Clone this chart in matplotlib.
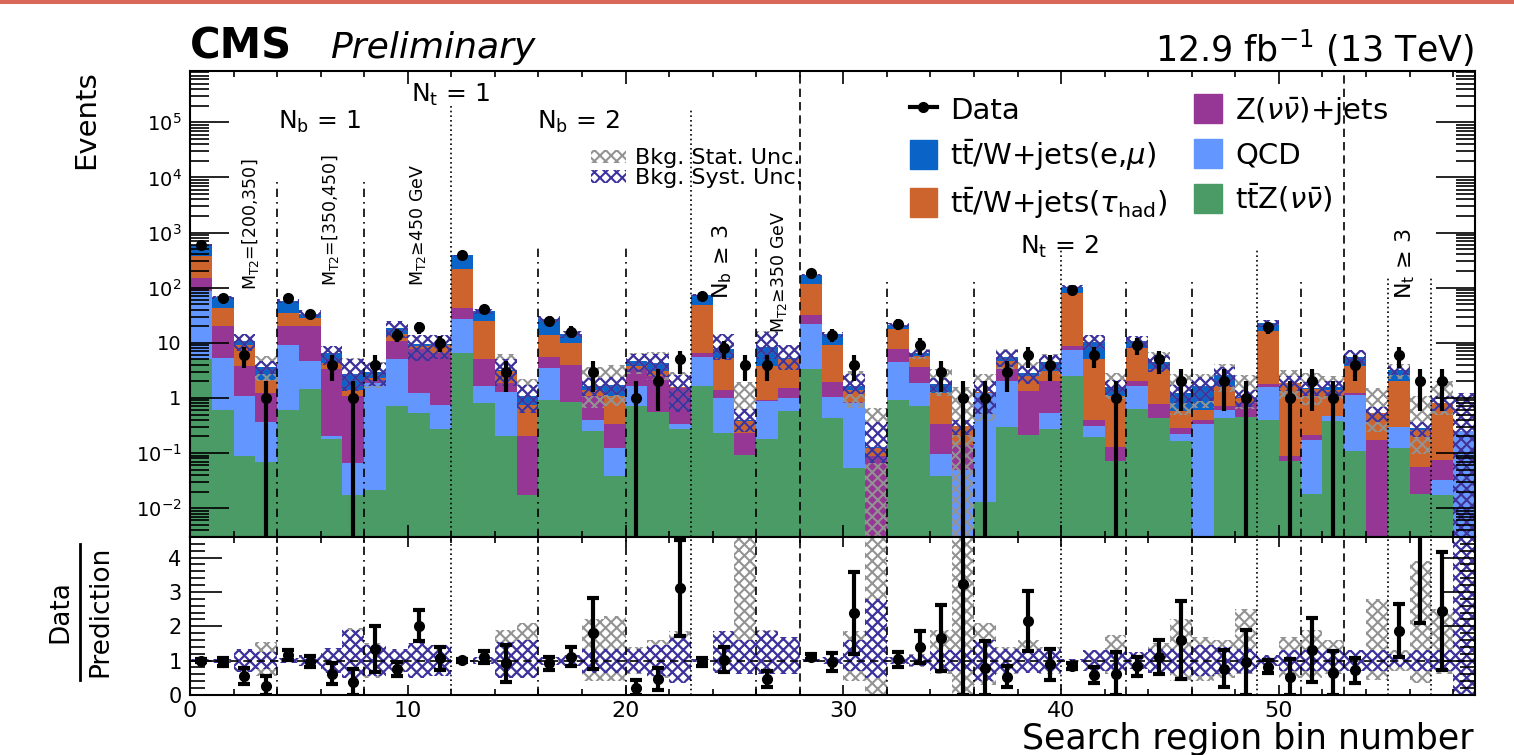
import numpy as np
import matplotlib
matplotlib.use("Agg")
import matplotlib.pyplot as plt
from matplotlib.patches import Patch, Rectangle
from matplotlib.lines import Line2D
from matplotlib.ticker import MultipleLocator, LogLocator, NullFormatter, FixedLocator, FixedFormatter

# --- background components per search bin (stacked, bottom to top) ---
ttz = [5.0, 0.61, 0.087, 0.07, 0.61, 1.46, 0.18, 0.017, 0.021, 0.7,
       0.53, 0.27, 6.6, 0.81, 0.2, 0.017, 0.93, 0.83, 0.25, 0.039,
       0.7, 0.55, 0.27, 1.68, 0.23, 0.093, 0.18, 0.57, 3.3, 0.43,
       0.053, 0.0, 0.91, 0.72, 0.039, 0.0, 0.013, 0.3, 0.215, 0.27,
       2.5, 0.195, 0.072, 0.63, 0.43, 0.163, 0.0, 0.43, 0.46, 0.39,
       0.072, 0.018, 0.38, 0.107, 0.0, 0.123, 0.018, 0.017, 0.0]
qcd = [82, 4.69, 0.98, 0.29, 8.7, 3.14, 0.02, 0.049, 1.88, 4.3,
       0.7, 0.49, 20.4, 0.82, 1.07, 0.0, 2.57, 0.0, 0.14, 0.084,
       0.93, 0.0, 0.06, 3.92, 0.77, 0.0, 0.69, 0.43, 19.1, 0.6,
       0.757, 0.0, 3.59, 1.15, 0.058, 0.05, 1.217, 1.7, 0.0, 0.26,
       4.9, 0.115, 0.0, 1.0, 0.0, 0.062, 0.33, 0.18, 0.0, 1.19,
       0.0, 0.152, 0.1, 1.013, 0.0, 0.177, 0.0, 0.015, 0.25]
znn = [65, 14.7, 2.73, 0.87, 10.7, 15.4, 3.1, 1.0, 0.25, 5.7,
       6.37, 5.84, 16, 3.47, 0.63, 0.183, 2.1, 3.07, 0.68, 0.207,
       1.67, 1.95, 1.17, 1.0, 0.42, 0.137, 0.06, 0.52, 9.0, 0.9,
       0.04, 0.087, 3.3, 1.73, 0.233, 0.09, 0.02, 1.3, 1.1, 1.47,
       1.5, 0.09, 0.058, 0.37, 0.36, 0.06, 0.06, 0.09, 0.35, 0.24,
       0.015, 0.045, 0.0, 0.11, 0.175, 0.0, 0.038, 0.044, 0.0]
tauhad = [226, 23, 5.5, 0.92, 15, 8, 1.0, 0.33, 0.15, 3.5,
          1.1, 2.4, 178, 19.7, 1.15, 0.56, 8.0, 6.1, 0.35, 0.74,
          0.5, 0.55, 0.05, 41.1, 3.88, 0.15, 2.87, 3.48, 83.6, 7.37,
          0.57, 0.036, 9.7, 2.1, 0.9, 0.17, 0.02, 1.3, 1.18, 1.05,
          70, 4.6, 0.94, 6.1, 2.5, 0.285, 0.22, 0.93, 0.19, 14.5,
          1.78, 1.245, 0.94, 2.57, 0.355, 1.7, 0.209, 0.734, 0.0]
lostlep = [220, 24, 1.4, 1.55, 22, 6, 2.1, 1.3, 0.7, 4.2,
           0.7, 0.4, 164, 12.2, 0.2, 0.31, 13.4, 4.3, 0.25, 0.68,
           0.8, 1.25, 0.05, 25.3, 2.5, 0.02, 4.7, 0.3, 53, 5.1,
           0.25, 0.007, 3.7, 0.7, 0.57, 0.0, 0.0, 1.0, 0.3, 1.45,
           26, 5.5, 0.53, 2.7, 1.2, 0.68, 1.02, 0.97, 0.05, 6.7,
           0.03, 0.06, 0.16, 1.8, 0.0, 1.2, 0.015, 0.01, 0.0]

# observed events
data = [600, 65, 6, 1, 66, 33, 4, 1, 4, 14,
        19, 10, 388, 41, 3, 0, 25, 16, 3, 0,
        1, 2, 5, 70, 8, 4, 4, 0, 188, 14,
        4, 0, 22, 9, 3, 1, 1, 3, 6, 4,
        89, 6, 1, 9, 5, 2, 0, 2, 1, 19,
        1, 2, 1, 4, 0, 6, 2, 2, 0]

# relative background uncertainties (up / down)
stat_up = [0.02, 0.05, 0.3, 0.55, 0.05, 0.1, 0.3, 0.95, 0.5, 0.25,
           0.4, 0.4, 0.02, 0.08, 0.9, 1.1, 0.1, 0.15, 1.2, 1.3,
           0.4, 0.6, 0.85, 0.05, 0.6, 3.8, 0.9, 0.7, 0.03, 0.1,
           0.85, 4.0, 0.1, 0.2, 0.9, 4.0, 1.1, 0.4, 0.6, 0.4,
           0.04, 0.3, 0.75, 0.2, 0.5, 1.2, 0.7, 0.6, 1.5, 0.15,
           0.7, 0.9, 0.6, 0.3, 1.8, 0.3, 2.9, 1.5, 4.0]
stat_dn = [0.02, 0.05, 0.3, 0.45, 0.05, 0.1, 0.3, 0.5, 0.5, 0.25,
           0.4, 0.4, 0.02, 0.08, 0.5, 0.5, 0.1, 0.15, 0.6, 0.6,
           0.4, 0.5, 0.6, 0.05, 0.3, 0.4, 0.4, 0.4, 0.03, 0.1,
           0.6, 1.0, 0.1, 0.2, 0.4, 1.0, 0.7, 0.4, 0.25, 0.4,
           0.04, 0.3, 0.4, 0.2, 0.3, 0.6, 0.6, 0.5, 0.4, 0.15,
           0.5, 0.5, 0.4, 0.3, 0.55, 0.3, 0.65, 0.4, 1.0]
syst_up = [0.04, 0.06, 0.33, 0.25, 0.08, 0.15, 0.37, 0.9, 0.45, 0.33,
           0.5, 0.45, 0.03, 0.1, 0.55, 0.6, 0.12, 0.15, 0.35, 0.35,
           0.35, 0.45, 0.65, 0.05, 0.85, 0.6, 0.85, 0.7, 0.04, 0.1,
           0.6, 1.8, 0.1, 0.15, 0.3, 0.3, 0.6, 0.35, 0.35, 0.35,
           0.05, 0.3, 0.3, 0.25, 0.35, 0.35, 0.45, 0.4, 0.35, 0.15,
           0.3, 0.3, 0.3, 0.3, 0.3, 0.2, 0.3, 0.3, 4.0]
syst_dn = [0.04, 0.06, 0.33, 0.25, 0.08, 0.15, 0.37, 0.5, 0.45, 0.33,
           0.5, 0.45, 0.03, 0.1, 0.5, 0.5, 0.12, 0.15, 0.35, 0.35,
           0.35, 0.45, 0.65, 0.05, 0.37, 0.4, 0.4, 0.4, 0.04, 0.1,
           0.3, 0.5, 0.1, 0.15, 0.3, 0.3, 0.6, 0.35, 0.35, 0.35,
           0.05, 0.3, 0.3, 0.25, 0.35, 0.35, 0.45, 0.4, 0.35, 0.15,
           0.3, 0.3, 0.3, 0.3, 0.3, 0.2, 0.3, 0.3, 1.0]

# region dividers: (bin edge, style, height in upper pad)
dividers = [(4, "dashdot", 0.766), (8, "dashdot", 0.766), (12, "dotted", 0.927),
            (16, "dashdot", 0.627), (20, "dashdot", 0.627), (23, "dotted", 0.916),
            (26, "dashdot", 0.622), (28, "dashed", 1.0), (32, "dashdot", 0.552),
            (36, "dashdot", 0.552), (40, "dotted", 0.616), (43, "dashdot", 0.552),
            (46, "dashdot", 0.552), (49, "dotted", 0.616), (51, "dashdot", 0.552),
            (53, "dashed", 1.0), (55, "dotted", 0.556), (57, "dotted", 0.556)]
line_styles = {"dashdot": (0, (5, 3, 1, 3)), "dotted": (0, (1, 1.8)), "dashed": (0, (5, 3))}

plt.rcParams["font.family"] = ["DejaVu Sans"]
plt.rcParams["mathtext.fontset"] = "dejavusans"
plt.rcParams["hatch.linewidth"] = 1.5

c_ttz, c_qcd, c_znn, c_tau, c_ll = "#4A9B65", "#6496FF", "#963796", "#CD642D", "#0A64C8"
c_stat, c_syst = "#939393", "#3C32A0"

nbins = len(data)
edges = np.arange(nbins)
centers = edges + 0.5
data = np.array(data, dtype=float)

fig = plt.figure(figsize=(15.14, 7.55), dpi=100)
ax1 = fig.add_axes([0.1255, 0.2887, 0.8487, 0.6172])
ax2 = fig.add_axes([0.1255, 0.0795, 0.8487, 0.2093], sharex=ax1)

# stacked backgrounds
bottom = np.zeros(nbins)
for vals, col in zip([ttz, qcd, znn, tauhad, lostlep], [c_ttz, c_qcd, c_znn, c_tau, c_ll]):
    vals = np.array(vals, dtype=float)
    ax1.bar(edges, vals, width=1, bottom=bottom, align="edge", color=col, lw=0)
    bottom = bottom + vals
total = bottom

su, sd = np.array(stat_up), np.array(stat_dn)
yu, yd = np.array(syst_up), np.array(syst_dn)
ax1.bar(edges, total * (su + sd), width=1, bottom=total * (1 - sd), align="edge",
        fill=False, hatch="xxx", edgecolor=c_stat, lw=0)
ax1.bar(edges, total * (yu + yd), width=1, bottom=total * (1 - yd), align="edge",
        fill=False, hatch="xxx", edgecolor=c_syst, lw=0)

m = data > 0
ax1.errorbar(centers[m], data[m], yerr=np.sqrt(data[m]), fmt="o", color="k",
             ms=7, elinewidth=3, capsize=0, zorder=5)

# ratio pad
ax2.bar(edges, su + sd, width=1, bottom=1 - sd, align="edge",
        fill=False, hatch="xxx", edgecolor=c_stat, lw=0)
ax2.bar(edges, yu + yd, width=1, bottom=1 - yd, align="edge",
        fill=False, hatch="xxx", edgecolor=c_syst, lw=0)
ax2.axhline(1, color="k", ls=(0, (5, 3)), lw=1.2)
ratio = data[m] / total[m]
ratio_err = np.sqrt(data[m]) / total[m]
ax2.errorbar(centers[m], ratio, yerr=ratio_err, fmt="o", color="k", ms=7,
             elinewidth=3, capsize=4, capthick=3, zorder=5)

for x, st, h in dividers:
    ax1.axvline(x, ymin=0, ymax=h, color="k", lw=1.2, ls=line_styles[st])
    ax2.axvline(x, color="k", lw=1.2, ls=line_styles[st])

# axes styling
ax1.set_yscale("log")
ax1.set_ylim(3e-3, 8.5e5)
ax1.set_xlim(0, nbins)
ax1.yaxis.set_major_locator(FixedLocator([1e-2, 1e-1, 1, 10, 1e2, 1e3, 1e4, 1e5]))
ax1.yaxis.set_major_formatter(FixedFormatter([r"$10^{-2}$", r"$10^{-1}$", "1", "10",
                                              r"$10^{2}$", r"$10^{3}$", r"$10^{4}$", r"$10^{5}$"]))
ax1.yaxis.set_minor_locator(LogLocator(base=10, subs=np.arange(2, 10), numticks=100))
ax1.yaxis.set_minor_formatter(NullFormatter())
ax1.xaxis.set_major_locator(MultipleLocator(10))
ax1.xaxis.set_minor_locator(MultipleLocator(2))
ax1.tick_params(which="both", direction="in", top=True, right=True, labelbottom=False, width=1.2)
ax1.tick_params(axis="y", which="major", length=28, labelsize=14, pad=6)
ax1.tick_params(axis="y", which="minor", length=14)
ax1.tick_params(axis="x", which="major", length=9)
ax1.tick_params(axis="x", which="minor", length=4.5)

ax2.set_ylim(0, 4.6)
ax2.yaxis.set_major_locator(MultipleLocator(1))
ax2.yaxis.set_minor_locator(MultipleLocator(0.2))
ax2.tick_params(which="both", direction="in", top=True, right=True, width=1.2)
ax2.tick_params(axis="y", which="major", length=23, labelsize=15, pad=6)
ax2.tick_params(axis="y", which="minor", length=11)
ax2.tick_params(axis="x", which="major", length=7, labelsize=16, pad=4)
ax2.tick_params(axis="x", which="minor", length=4)
for ax in (ax1, ax2):
    for sp in ax.spines.values():
        sp.set_linewidth(1.5)

# legends
handles = [Line2D([], [], color="k", marker="o", ms=7, lw=3),
           Patch(color=c_ll), Patch(color=c_tau),
           Patch(color=c_znn), Patch(color=c_qcd), Patch(color=c_ttz)]
labels = ["Data",
          r"$\mathrm{t\bar{t}}$/W+jets(e,$\mu$)",
          r"$\mathrm{t\bar{t}}$/W+jets($\tau_{\mathrm{had}}$)",
          r"Z($\nu\bar{\nu}$)+jets", "QCD",
          r"$\mathrm{t\bar{t}}$Z($\nu\bar{\nu}$)"]
leg = ax1.legend(handles, labels, ncol=2, loc="upper left", bbox_to_anchor=(0.560, 0.950),
                 frameon=False, fontsize=21, handlelength=0.95, handleheight=1.15,
                 handletextpad=0.45, columnspacing=0.9, labelspacing=0.42,
                 borderaxespad=0, borderpad=0)
ax1.add_artist(leg)
unc_handles = [Patch(fill=False, hatch="xxx", edgecolor=c_stat, lw=0),
               Patch(fill=False, hatch="xxx", edgecolor=c_syst, lw=0)]
ax1.legend(unc_handles, ["Bkg. Stat. Unc.", "Bkg. Syst. Unc."], loc="upper left",
           bbox_to_anchor=(0.312, 0.834), frameon=False, fontsize=16,
           handlelength=1.6, handleheight=0.5, handletextpad=0.4,
           labelspacing=0.0, borderaxespad=0, borderpad=0)

# region labels
tr = ax1.get_xaxis_transform()
ax1.text(11.95, 0.948, r"N$_{\mathrm{t}}$ = 1", transform=tr, ha="center", va="center", fontsize=18)
ax1.text(5.97, 0.89, r"N$_{\mathrm{b}}$ = 1", transform=tr, ha="center", va="center", fontsize=18)
ax1.text(17.85, 0.89, r"N$_{\mathrm{b}}$ = 2", transform=tr, ha="center", va="center", fontsize=18)
ax1.text(39.9, 0.622, r"N$_{\mathrm{t}}$ = 2", transform=tr, ha="center", va="center", fontsize=18)
ax1.text(2.76, 0.813, r"M$_{\mathrm{T2}}$=[200,350]", transform=tr, rotation=90,
         ha="center", va="top", fontsize=12.5)
ax1.text(6.43, 0.82, r"M$_{\mathrm{T2}}$=[350,450]", transform=tr, rotation=90,
         ha="center", va="top", fontsize=12.5)
ax1.text(10.48, 0.80, "M$_{\\mathrm{T2}}$\u2265450 GeV", transform=tr, rotation=90,
         ha="center", va="top", fontsize=12.5)
ax1.text(27.05, 0.70, "M$_{\\mathrm{T2}}$\u2265350 GeV", transform=tr, rotation=90,
         ha="center", va="top", fontsize=12.5)
ax1.text(24.45, 0.67, "N$_{\\mathrm{b}}$ \u2265 3", transform=tr, rotation=90,
         ha="center", va="top", fontsize=16)
ax1.text(55.8, 0.663, "N$_{\\mathrm{t}}$ \u2265 3", transform=tr, rotation=90,
         ha="center", va="top", fontsize=16)

# titles and axis labels
fig.text(0.1255, 0.923, "CMS", fontsize=30, fontweight="bold", ha="left", va="baseline")
fig.text(0.218, 0.923, "Preliminary", fontsize=26, style="italic", ha="left", va="baseline")
fig.text(0.9736, 0.918, r"12.9 fb$^{-1}$ (13 TeV)", fontsize=25, ha="right", va="baseline")
fig.text(0.057, 0.907, "Events", rotation=90, ha="center", va="top", fontsize=21)
fig.text(0.040, 0.19, "Data", rotation=90, ha="center", va="center", fontsize=19)
fig.text(0.066, 0.19, "Prediction", rotation=90, ha="center", va="center", fontsize=19)
fig.add_artist(Line2D([0.053, 0.053], [0.10, 0.28], color="k", lw=2, transform=fig.transFigure))
fig.text(0.9736, 0.008, "Search region bin number", fontsize=25, ha="right", va="baseline")

# slide header strip
fig.add_artist(Rectangle((0, 1 - 4 / 755), 1, 4 / 755, transform=fig.transFigure,
                         color="#D9675A", lw=0))

fig.savefig("out.png", dpi=100)
